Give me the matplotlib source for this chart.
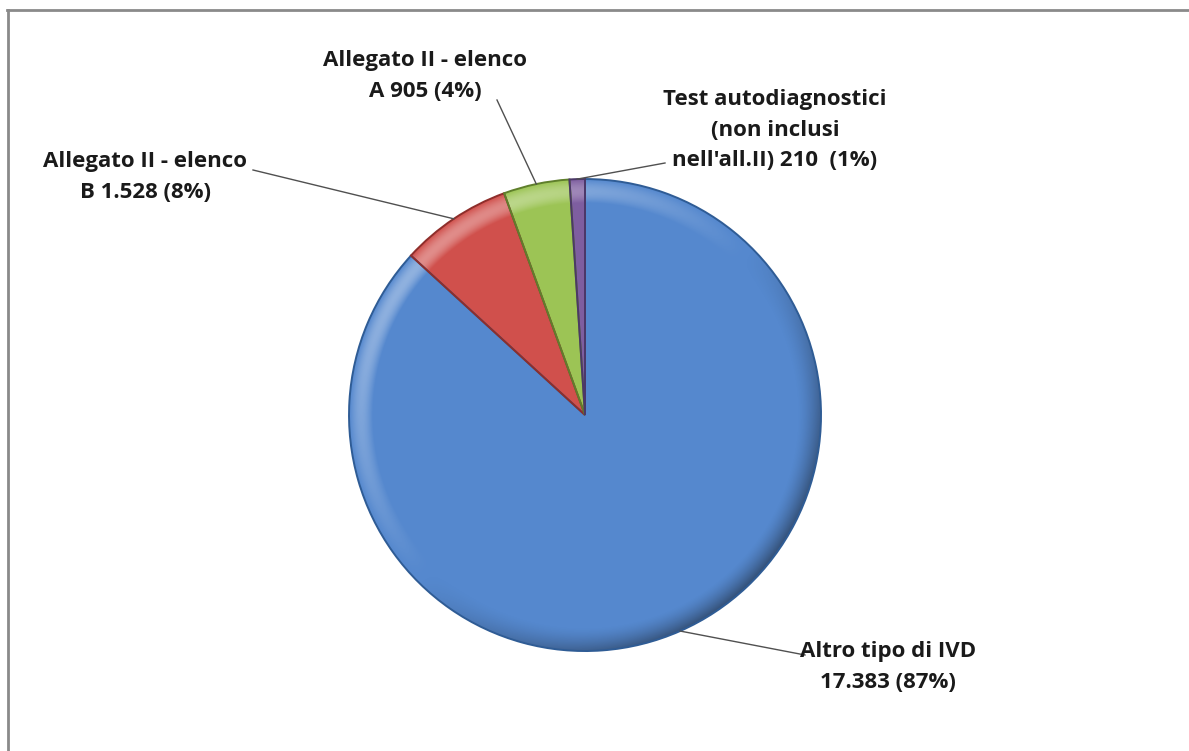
import numpy as np
import matplotlib
matplotlib.use("Agg")
import matplotlib.pyplot as plt
from matplotlib.lines import Line2D
from matplotlib.patches import Wedge

# ---- data ----
categories = ["Altro tipo di IVD", "Allegato II - elenco B", "Allegato II - elenco A",
              "Test autodiagnostici (non inclusi nell'all.II)"]
values = [17383, 1528, 905, 210]
labels = ["Altro tipo di IVD\n17.383 (87%)",
          "Allegato II - elenco\nB 1.528 (8%)",
          "Allegato II - elenco\nA 905 (4%)",
          "Test autodiagnostici\n(non inclusi\nnell'all.II) 210  (1%)"]
colors = ["#5588CE", "#D0504C", "#9CC455", "#7E5EA0"]
edge_colors = ["#2F5C95", "#8E2E2B", "#5F7F2C", "#4C3868"]

W, H = 1189, 751
fig = plt.figure(figsize=(W / 100, H / 100), dpi=100)
ax = fig.add_axes([0, 0, 1, 1])
ax.set_xlim(0, W)
ax.set_ylim(0, H)
ax.set_aspect("equal")
ax.axis("off")

cx, cy, R = 585, 751 - 415, 236
explode = [0.035, 0.035, 0.035, 0.035]
wedges, _ = ax.pie(values, startangle=90, counterclock=False, colors=colors,
                   center=(cx, cy), radius=R, explode=explode,
                   wedgeprops=dict(edgecolor="none", linewidth=0))
ax.set_xlim(0, W)
ax.set_ylim(0, H)

# bevel-like shading overlay (light from upper-left), clipped to each wedge
light = np.deg2rad(135)
for w, ec in zip(wedges, edge_colors):
    c = w.center
    x0, x1 = c[0] - R - 2, c[0] + R + 2
    y0, y1 = c[1] - R - 2, c[1] + R + 2
    xs = np.linspace(x0, x1, 500)
    ys = np.linspace(y1, y0, 500)
    X, Y = np.meshgrid(xs, ys)
    dx, dy = X - c[0], Y - c[1]
    rr = np.hypot(dx, dy) / R
    th = np.arctan2(dy, dx)
    k = np.cos(th - light)
    rim = np.clip((rr - 0.90) / 0.10, 0, 1)
    rgba = np.zeros(X.shape + (4,))
    lit = k > 0
    rgba[lit, :3] = 1.0
    rgba[lit, 3] = 0.35 * k[lit] * np.sin(np.pi * rim[lit])
    rgba[~lit, :3] = 0.05
    rgba[~lit, 3] = 0.45 * (-k[~lit]) * rim[~lit] ** 1.5
    im = ax.imshow(rgba, extent=(x0, x1, y0, y1), interpolation="bilinear", zorder=2)
    im.set_clip_path(w)
    ax.add_patch(Wedge(c, R, w.theta1, w.theta2, facecolor="none", edgecolor=ec,
                       linewidth=1.4, zorder=3))
ax.set_xlim(0, W)
ax.set_ylim(0, H)

# label positions (text center) and leader line end
text_pos = [(888, 751 - 667), (145, 751 - 177), (425, 751 - 76), (775, 751 - 130)]
line_end = [(805, 751 - 655), (253, 751 - 170), (497, 751 - 100), (665, 751 - 163)]
for w, lab, tp, le in zip(wedges, labels, text_pos, line_end):
    mid = np.deg2rad((w.theta1 + w.theta2) / 2)
    sx = w.center[0] + R * np.cos(mid)
    sy = w.center[1] + R * np.sin(mid)
    ax.add_line(Line2D([sx, le[0]], [sy, le[1]], color="#505050", linewidth=1.0, zorder=4))
    ax.text(tp[0], tp[1], lab, ha="center", va="center", fontsize=16,
            fontweight="bold", family="Open Sans", color="#1a1a1a", linespacing=1.6,
            zorder=5)

# chart frame (top and left edges visible)
fig.add_artist(Line2D([7 / W, 1], [1 - 10 / H, 1 - 10 / H], transform=fig.transFigure,
                      color="#8a8a8a", linewidth=2))
fig.add_artist(Line2D([8 / W, 8 / W], [0, 1 - 10 / H], transform=fig.transFigure,
                      color="#8a8a8a", linewidth=2))

fig.savefig("out.png", dpi=100, facecolor="white")
